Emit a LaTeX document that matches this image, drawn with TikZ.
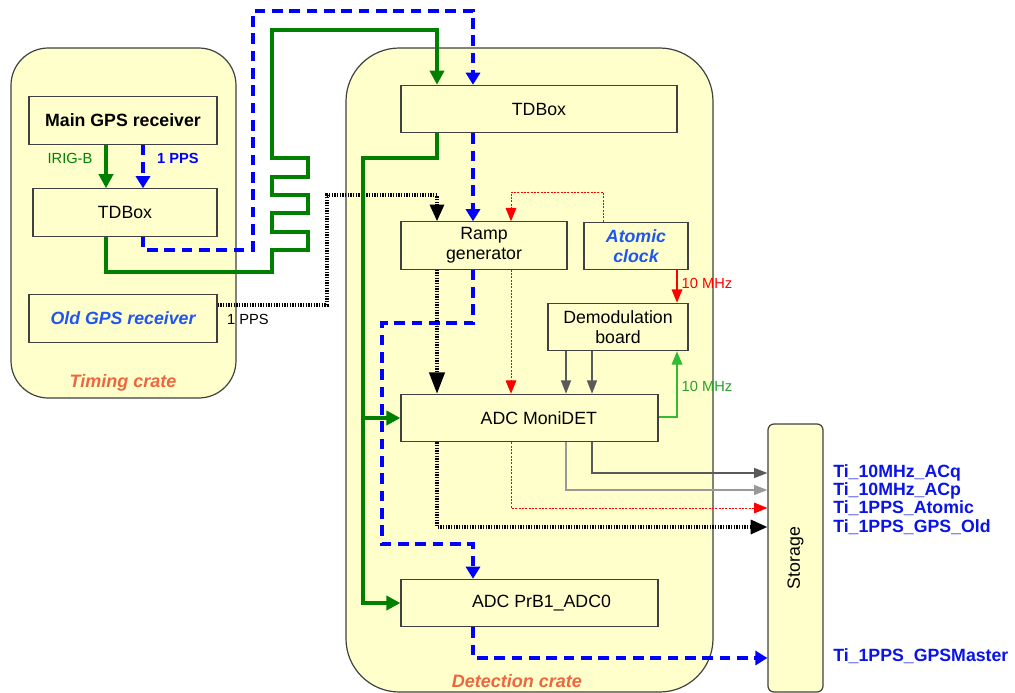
\documentclass[tikz,border=0pt]{standalone}
\usepackage{fontspec}
\setmainfont{Liberation Sans}
\usepackage{tikz}
\usetikzlibrary{
  arrows.meta,
  positioning,
  calc
}
\definecolor{tsFill}{HTML}{FFFFCC}
\definecolor{tsEdge}{HTML}{404040}
\definecolor{tsGreen}{HTML}{008000}
\definecolor{tsLime}{HTML}{33BB33}
\definecolor{tsBlue}{HTML}{0000FF}
\definecolor{tsSky}{HTML}{1F55F0}
\definecolor{tsStore}{HTML}{0A14E6}
\definecolor{tsRed}{HTML}{FF0000}
\definecolor{tsCoral}{HTML}{EE6640}
\definecolor{tsGrey}{HTML}{5A5A5A}
\definecolor{tsLGrey}{HTML}{999999}
\newcommand{\boxfont}{\fontsize{13.3}{15}\selectfont}
\tikzset{
  crate/.style={draw=tsEdge, fill=tsFill, line width=0.9pt, rounded corners=28pt},
  tbox/.style={
    draw=tsEdge, fill=tsFill, line width=0.9pt, minimum height=35.5pt,
    font=\boxfont, align=center, inner sep=0pt
  },
  cratelbl/.style={font=\fontsize{13.5}{15}\selectfont\bfseries\itshape, text=tsCoral},
  lbl/.style={font=\fontsize{11}{13}\selectfont, inner sep=1pt},
  storlbl/.style={font=\fontsize{13.3}{13.7}\selectfont\bfseries, text=tsStore, align=left, inner sep=0pt},
  gsig/.style={-{Triangle[length=10.5pt, width=10.5pt]}, line width=3pt, tsGreen},
  bsig/.style={-{Triangle[length=9pt, width=10.5pt]}, line width=3pt, tsBlue, dash pattern=on 8pt off 5pt},
  ksig/.style={-{Triangle[length=12.5pt, width=10.5pt]}, line width=2.4pt, black, dash pattern=on 1pt off 1pt},
  rsig/.style={-{Triangle[length=10pt, width=8pt]}, line width=0.75pt, tsRed, dash pattern=on 1.5pt off 1pt},
  ysig/.style={-{Triangle[length=10pt, width=7.5pt]}, line width=1.1pt, tsGrey},
  freq/.style={-{Triangle[length=10pt, width=8pt]}, line width=0.9pt}
}

\begin{document}
\begin{tikzpicture}[x=0.75pt, y=-0.75pt]
  \useasboundingbox (0,0) rectangle (1015,693);
  % crates
  \node[crate, minimum width=168.75pt, minimum height=262.5pt] (tcrate) at (123.5,223) {};
  \node[crate, rounded corners=40pt, minimum width=275.25pt, minimum height=483pt] (dcrate) at (529.5,370) {};
  \node[cratelbl] (tclbl) at (123,383) {Timing crate};
  \node[cratelbl] (dclbl) at (517,681) {Detection crate};

  % timing crate
  \node[tbox, minimum width=141pt] (mgps) at (123,120.5) {\bfseries Main GPS receiver};
  \node[tbox, minimum width=138pt] (tdt) at (125,212.5) {TDBox};
  \node[tbox, minimum width=141pt, text=tsSky, font=\boxfont\bfseries\itshape] (ogps) at (123,318.5) {Old GPS receiver};

  % detection crate
  \node[tbox, minimum width=207pt] (tdd) at (539,109) {TDBox};
  \node[tbox, minimum width=124.5pt] (ramp) at (484,245.5) {Ramp\\generator};
  \node[tbox, minimum width=78pt, text=tsSky, font=\boxfont\bfseries\itshape] (atom) at (636,246) {Atomic\\clock};
  \node[tbox, minimum width=105pt] (demod) at (618,327) {Demodulation\\board};
  \node[tbox, minimum width=192.75pt] (moni) at (529.5,418) {\hspace{14pt}ADC MoniDET};
  \node[tbox, minimum width=192.75pt] (adc0) at (529.5,603) {\hspace{18pt}ADC PrB1\_ADC0};

  % storage
  \node[tbox, rounded corners=4.5pt, minimum width=41.25pt, minimum height=201pt] (stor) at (795.5,558) {};
  \node[rotate=90, font=\boxfont] (storname) at (stor.center) {Storage};
  \node[storlbl, anchor=west] (slist) at (833,499.5) {Ti\_10MHz\_ACq\\Ti\_10MHz\_ACp\\Ti\_1PPS\_Atomic\\Ti\_1PPS\_GPS\_Old};
  \node[storlbl, anchor=west] (smaster) at (833,656) {Ti\_1PPS\_GPSMaster};

  % GPS -> timing TDBox
  \draw[gsig] (mgps.south -| 106,0) -- (tdt.north -| 106,0);
  \draw[bsig] (mgps.south -| 143,0) -- (tdt.north -| 143,0);
  \node[lbl, text=tsGreen] (lirig) at (70,158) {IRIG-B};
  \node[lbl, text=tsBlue, font=\fontsize{11}{13}\selectfont\bfseries] (lpps) at (178,158) {1 PPS};

  % timing crate -> detection TDBox
  \draw[bsig] (tdt.south -| 143,0) |- (253,250) |- (473,11) -- (tdd.north -| 473,0);
  \draw[gsig] (tdt.south -| 106,0) |- (272,272) -- (272,250)
    -- (308,250) -- (308,232) -- (272,232) -- (272,213)
    -- (308,213) -- (308,195) -- (272,195) -- (272,177)
    -- (308,177) -- (308,158) -- (272,158) -- (272,30)
    -| (tdd.north -| 437,0);

  % old GPS -> ramp
  \draw[ksig] (ogps.east |- 0,305) -- (327,305) |- (437,195) -- (ramp.north -| 437,0);
  \node[lbl] (lold) at (248,319) {1 PPS};

  % detection TDBox
  \draw[gsig] (tdd.south -| 437,0) |- (363,158) |- (adc0.west);
  \draw[gsig] (363,418) -- (moni.west);
  \draw[bsig] (tdd.south -| 473,0) -- (ramp.north -| 473,0);

  % ramp generator
  \draw[bsig] (ramp.south -| 473,0) |- (382,323) |- (473,544) -- (adc0.north -| 473,0);
  \draw[ksig, -{Triangle[length=16pt, width=11.5pt]}] (ramp.south -| 437,0) -- (moni.north -| 437,0);
  \draw[rsig] (ramp.south -| 511,0) -- (moni.north -| 511,0);

  % atomic clock
  \draw[rsig] (atom.north -| 603,0) |- (511,192) -- (ramp.north -| 511,0);
  \draw[freq, tsRed] (atom.south -| 677,0) -- (demod.north -| 677,0);
  \node[lbl, text=tsRed] (lred) at (707,283) {10 MHz};

  % demodulation board
  \draw[ysig] (demod.south -| 566,0) -- (moni.north -| 566,0);
  \draw[ysig] (demod.south -| 592,0) -- (moni.north -| 592,0);
  \draw[freq, tsLime] (moni.east |- 0,417) -| (demod.south -| 677,0);
  \node[lbl, text=tsLime!85!black] (lgreen) at (707,386) {10 MHz};

  % ADC -> storage
  \draw[ysig] (moni.south -| 592,0) |- (stor.west |- 0,473);
  \draw[ysig, tsLGrey] (moni.south -| 566,0) |- (stor.west |- 0,490);
  \draw[rsig] (moni.south -| 511,0) |- (stor.west |- 0,508);
  \draw[ksig] (moni.south -| 437,0) |- (stor.west |- 0,527);
  \draw[bsig] (adc0.south -| 473,0) |- (stor.west |- 0,658);
\end{tikzpicture}
\end{document}
